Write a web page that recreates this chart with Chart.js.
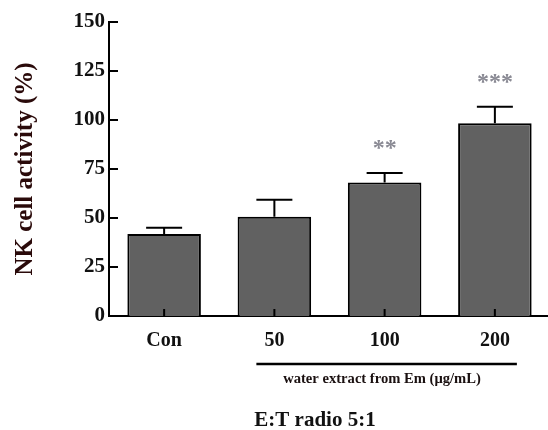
<!DOCTYPE html>
<html>
<head>
<meta charset="utf-8">
<script src="https://cdn.jsdelivr.net/npm/chart.js@4.4.1/dist/chart.umd.min.js"></script>
<style>
  html, body { margin: 0; padding: 0; background: #fff; overflow: hidden; }
  #wrap { width: 560px; height: 430px; }
</style>
</head>
<body>
<div id="wrap"><canvas id="nkChart" width="560" height="430"></canvas></div>
<script>
// NK cell activity, E:T ratio 5:1
const groups = ['Con', '50', '100', '200'];
const activity = [41.8, 50.7, 68.1, 98.3];
const sem = [3.2, 8.6, 4.9, 8.5];
const stars = ['', '', '**', '***'];
const yTicks = [0, 25, 50, 75, 100, 125, 150];

const serif = "'Liberation Serif', 'Times New Roman', serif";

// error bars, inward ticks, significance marks and the group label
const extrasPlugin = {
    id: 'extras',
    afterDatasetsDraw(chart) {
        const ctx = chart.ctx;
        const x = chart.scales.x;
        const y = chart.scales.y;
        const meta = chart.getDatasetMeta(0);
        ctx.save();
        ctx.strokeStyle = '#000';
        ctx.lineWidth = 2;

        meta.data.forEach((bar, i) => {
            const top = y.getPixelForValue(activity[i]);
            const errTop = y.getPixelForValue(activity[i] + sem[i]);
            ctx.beginPath();
            ctx.moveTo(bar.x, top);
            ctx.lineTo(bar.x, errTop);
            ctx.moveTo(bar.x - 18, errTop);
            ctx.lineTo(bar.x + 18, errTop);
            // small upward tick at the bottom of each bar
            ctx.moveTo(bar.x, y.bottom);
            ctx.lineTo(bar.x, y.bottom - 7);
            ctx.stroke();

            if (stars[i]) {
                ctx.fillStyle = '#8a8a94';
                ctx.font = 'bold 24px ' + serif;
                ctx.textAlign = 'center';
                ctx.textBaseline = 'middle';
                ctx.fillText(stars[i], bar.x, errTop - 24);
            }
        });

        // y ticks point into the plot
        yTicks.forEach(v => {
            const py = y.getPixelForValue(v);
            ctx.beginPath();
            ctx.moveTo(x.left, py);
            ctx.lineTo(x.left + 9, py);
            ctx.stroke();
        });

        // bracket under the treated groups
        const x1 = x.getPixelForValue(1) - 18;
        const x2 = x.getPixelForValue(3) + 22;
        ctx.beginPath();
        ctx.lineWidth = 2.5;
        ctx.moveTo(x1, 364);
        ctx.lineTo(x2, 364);
        ctx.stroke();

        ctx.fillStyle = '#1a1010';
        ctx.font = 'bold 14.6px ' + serif;
        ctx.textAlign = 'center';
        ctx.textBaseline = 'middle';
        ctx.fillText('water extract from Em (\u03bcg/mL)', 382, 379);

        ctx.font = 'bold 21px ' + serif;
        ctx.fillStyle = '#111';
        ctx.fillText('E:T radio 5:1', 315, 421);
        ctx.restore();
    }
};

new Chart(document.getElementById('nkChart'), {
    type: 'bar',
    data: {
        labels: groups,
        datasets: [{
            data: activity,
            backgroundColor: '#616161',
            borderColor: '#000',
            borderWidth: 2,
            barPercentage: 0.667,
            categoryPercentage: 1.0
        }]
    },
    options: {
        responsive: false,
        animation: false,
        layout: { padding: { top: 22, right: 10, bottom: 0, left: 0 } },
        plugins: {
            legend: { display: false },
            tooltip: { enabled: false }
        },
        scales: {
            x: {
                grid: { display: false, drawTicks: false },
                border: { display: true, color: '#000', width: 2 },
                ticks: {
                    color: '#111',
                    padding: 13,
                    font: { family: serif, size: 20, weight: 'bold' }
                },
                afterFit(scale) { scale.height = 114; }
            },
            y: {
                min: 0,
                max: 150,
                grid: { display: false, drawTicks: false },
                border: { display: true, color: '#000', width: 2 },
                ticks: {
                    stepSize: 25,
                    color: '#111',
                    padding: 4,
                    font: { family: serif, size: 21, weight: 'bold' }
                },
                title: {
                    display: true,
                    text: 'NK cell activity (%)',
                    color: '#2a0a0a',
                    padding: { top: 11, bottom: 0 },
                    font: { family: serif, size: 25, weight: 'bold' }
                },
                afterFit(scale) { scale.width = 109; }
            }
        }
    },
    plugins: [extrasPlugin]
});
</script>
</body>
</html>
